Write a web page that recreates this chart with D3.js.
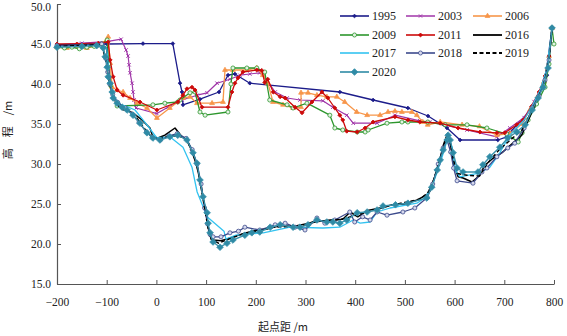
<!DOCTYPE html>
<html><head><meta charset="utf-8">
<script src="https://cdn.jsdelivr.net/npm/d3@7"></script>
<style>body{margin:0;background:#fff;}svg{display:block;}</style>
</head><body>
<svg id="c" width="567" height="336"></svg>
<script>
const xTicks = [-200,-100,0,100,200,300,400,500,600,700,800];
const yTicks = [15,20,25,30,35,40,45,50];
const years = ["1995","2003","2006","2009","2011","2016","2017","2018","2019","2020"];

const s1995 = [[-200,44.9],[-150,45],[-100,45],[-27,45.05],[33,45.05],[47.5,40.1],[51.5,39],[53.5,37.4],[87.7,38.1],[126,39],[144,41.1],[158,41.25],[188,40.1],[369,39],[436,38],[506,37],[546.5,36],[584.7,34.5],[611,33],[687,33],[705,33.4],[711,33.9],[758,37.1],[786,41.1],[796,47]];
const s2003 = [[-200,44.9],[-150,45.1],[-100,45.3],[-71,45.6],[-61,44.25],[-57,43.5],[-55,42.4],[-53,41.4],[-49,40.1],[-47,39],[-45,38],[-41,37],[1,36.3],[23,37.1],[51.5,38],[82,38.6],[102,38.9],[122,40.1],[148,40.6],[168,41.1],[188,41.25],[208,41.4],[222,40.5],[239,39],[263,38.25],[289,38],[335,37.9],[355,37.1],[383,36.1],[396,35.1],[444,35.1],[480,36.1],[530,35.4],[550,35.25],[625,34.25],[685,33.4],[711,34.5],[740,35.8],[760,37.8],[782,40.5],[796,47]];
const s2006 = [[-200,44.6],[-180,44.5],[-160,44.7],[-140,44.5],[-120,44.8],[-100,45.5],[-97,45.9],[-93,42.6],[-89,39.6],[-79,39.25],[-67,39],[-53,38.25],[-39,37.6],[-19,37],[1,35.75],[27,37],[53.5,38.25],[67.6,38.4],[81.7,37.6],[112,37.6],[134,37.75],[138,41.75],[154,41.75],[182,41.75],[202,42],[214,41.1],[224.5,40.1],[234.6,37.75],[254.7,37.4],[275,37],[291,37.1],[291,38.9],[305,38.9],[323,38.6],[343,38.4],[363,38.4],[379,37.75],[403,36.5],[424,36.1],[450,36.1],[466,36.5],[480,36.6],[494,36.5],[514,36.5],[524,36.1],[536,35.25],[546,34.9],[571,35.25],[615,34.9],[650,34.7],[685,33.6],[712,33.8],[735,35],[752,36.8],[768,38.5],[780,40.3],[790,43.5],[796,47]];
const s2009 = [[-200,44.6],[-185,44.5],[-170,44.6],[-155,44.4],[-140,44.6],[-125,44.7],[-110,45],[-99,45.5],[-96,42.5],[-92,39.8],[-79,37.25],[-7,37.4],[17,37.6],[43,37.75],[47.5,38],[67.6,38.9],[77.7,39],[87.7,36.5],[98,36.1],[144,36.5],[150,40],[154,42],[182,42],[202,42],[218,41.5],[228,38],[263,37.4],[275,37],[303,37.6],[349,36.1],[359,34.5],[375,34.25],[404,34],[420,34],[426,34.25],[464,35.1],[494,35.25],[506,35.25],[546,35.25],[581,34.9],[625,34.9],[665,34.5],[705,33.75],[728,32.75],[736,33.9],[748,35.5],[765,37.5],[782,39.6],[790,42.5],[796,47],[800,45]];
const s2011 = [[-200,45],[-160,45],[-117,45.1],[-97,45.25],[-93,43],[-87,40.9],[-79,39.25],[-67,38.6],[-33,37.75],[1,36.75],[43,37.75],[53.5,38.6],[61.5,39.4],[71.6,39.6],[77.7,39.25],[91.7,37.1],[144,37.1],[152,39],[158,40.1],[164,40.75],[174,41.5],[202,41.75],[212,41.7],[218,40.2],[224,40.6],[235,39],[249,38.4],[259,38.25],[279,37.1],[293,36.4],[313,37.75],[333,39],[345,38.25],[359,37],[369,36.1],[375,35.5],[383,34.1],[404,34],[420,34.5],[436,35.25],[480,35.9],[506,35.5],[530,35.25],[571,35.1],[607,34.5],[651,34],[685,33.9],[701,33.9],[725,34.9],[738,35.5],[755,37.2],[770,39],[782,41],[790,43.5],[796,47]];
const s2016 = [[-200,44.8],[-110,44.9],[-100,44.5],[-97,42],[-93,40],[-88,38.5],[-80,37.5],[-68,36.8],[-47,36.4],[-29,35.5],[-13,34.5],[-7,33.4],[3,33.25],[17,33.6],[37.4,34.5],[51.5,33.4],[61.5,33],[72,31.5],[80,30],[88,28],[95,25.5],[102,23],[107,21],[115,20.5],[130,20.4],[150,20.8],[175,21.3],[200,21.7],[230,22],[250,22.3],[275,22.2],[300,22.5],[325,22.8],[350,23],[375,23.1],[390,24],[405,23.4],[425,24.2],[450,24.5],[475,24.9],[500,25],[525,25.5],[545,26.2],[558,28],[568,30],[578,32.5],[586,33.8],[592,32.3],[598,30],[607,28.4],[617,28.25],[635,27.75],[651,28.6],[660,29.8],[675,30.6],[697,31.5],[715,32.5],[735,33.6],[752,36],[765,38],[778,40],[788,42.5],[796,47]];
const s2017 = [[-200,44.7],[-110,44.9],[-100,44.5],[-95,41],[-88,38.5],[-75,37.5],[-60,37.2],[-43,36.75],[-19,34.9],[1,33.25],[27,33.4],[53.5,32.1],[71.6,29.6],[82,26.5],[102,23.4],[136,21.6],[140,20.6],[160,21.1],[215,21.4],[269,22.1],[335,22],[369,22.1],[396,23],[410,22.6],[430,22.75],[444,24],[470,24.5],[524,25.1],[540,25.75],[554,27.1],[571,30.1],[587,33.4],[595,32.1],[601,29.25],[611,28.4],[651,28.9],[671,29.6],[691,31.4],[711,33.6],[740,35.5],[758,37.5],[772,39.2],[785,41.8],[796,47]];
const s2018 = [[-200,44.8],[-110,45],[-102,43.2],[-98,41.5],[-94,40],[-88,38.7],[-78,37.7],[-62,37],[-48,36.2],[-35,35.2],[-20,34],[-8,33.3],[8,33],[25,33.5],[42,33.8],[60,33.2],[72,31.8],[82,30],[90,27.5],[97,24.5],[103,22.5],[108,21.2],[114,20.9],[130,20.9],[148,21.4],[165,21.6],[178,22.1],[208,21.75],[239,22.4],[259,22.6],[279,22.1],[299,21.75],[323,23.25],[339,22.6],[359,23],[389,24],[399,22.75],[415,23.4],[430,23],[444,24],[464,23.6],[496,24],[520,24.5],[545,25.8],[556,27.5],[567,30],[577,32],[585,33],[592,31.5],[598,29.5],[605,27.9],[637,27.6],[655,29],[665,29.5],[685,30.9],[707,32],[721,32.6],[740,34.5],[756,37],[770,38.5],[782,40.5],[790,43],[796,47]];
const s2019 = [[-200,44.7],[-110,44.9],[-102,43],[-97,41],[-92,39.5],[-85,38],[-72,37.3],[-55,36.6],[-40,35.8],[-25,34.5],[-10,33.4],[5,33.1],[25,33.5],[45,33.5],[60,33.1],[72,31.6],[82,29.8],[90,27],[97,24.5],[104,22],[110,20.6],[125,20.1],[145,20.6],[175,21.3],[205,21.6],[235,22.1],[265,22.2],[295,22.3],[320,22.9],[350,22.9],[380,23.2],[410,23.8],[440,24.3],[470,24.8],[500,25.2],[530,25.6],[550,26.6],[562,28.8],[575,31.5],[586,33.8],[592,32.5],[598,30.5],[606,28.8],[625,28.6],[650,28.5],[665,30],[690,31.8],[712,33],[735,34.2],[752,36.2],[766,38],[780,40],[790,43],[796,47]];
const s2020 = [[-200,44.6],[-150,44.7],[-120,44.8],[-107,44.5],[-103,43.4],[-99,42.1],[-97,40.9],[-93,40.1],[-89,39],[-87,38.25],[-79,37.6],[-69,37.1],[-59,36.75],[-47,36.1],[-33,35.1],[-19,33.9],[-7,33.25],[7,33],[27,33.4],[43,33.6],[61.5,33],[73.6,31.4],[81.7,30.1],[87.7,28],[93.8,25.9],[102,23.9],[104,22.6],[108,21.4],[114,20.25],[128,19.6],[142,20.1],[154,20.5],[178,21.1],[192,21.4],[208,21.5],[229,22.1],[249,22.4],[275,22.1],[289,22.1],[305,22.4],[323,23],[343,22.75],[355,22.75],[369,22.6],[383,23],[404,23.9],[424,24],[444,24.25],[456,24.75],[481,24.9],[506,25.1],[544,25.75],[554,27.1],[565,29.25],[571,30.5],[577,31.75],[585,33],[587,33.6],[591,33],[597,31.4],[605,29.5],[617,29],[647,29],[657,29.9],[671,30.9],[691,32.1],[707,33.25],[725,34],[742,34.9],[756,36.75],[768,38.25],[778,39.6],[788,42],[796,47]];

const seriesData = [s1995,s2003,s2006,s2009,s2011,s2016,s2017,s2018,s2019,s2020];

const styles = {
  "1995":{color:"#1c1c8a",w:1.3,marker:"rsq",ms:7,fill:"#1c1c8a"},
  "2003":{color:"#a035a8",w:1.2,marker:"x",ms:9,fill:"none"},
  "2006":{color:"#f7964a",w:1.3,marker:"triangle",ms:10,fill:"#f7964a"},
  "2009":{color:"#2d962d",w:1.3,marker:"circle",ms:13,fill:"#e3f3e3"},
  "2011":{color:"#cc0a0a",w:1.3,marker:"rsq",ms:8,fill:"#cc0a0a"},
  "2016":{color:"#000000",w:1.5,marker:null},
  "2017":{color:"#33c3f0",w:1.3,marker:null},
  "2018":{color:"#3c4a8c",w:1.3,marker:"circle",ms:13,fill:"#d5d8ec"},
  "2019":{color:"#000000",w:1.5,marker:null,dash:"4,2.5"},
  "2020":{color:"#3a92ab",w:1.4,marker:"rsq",ms:22,fill:"#2f8aa5"}
};

const svg = d3.select("#c");
const x = d3.scaleLinear().domain([-200,800]).range([57,554]);
const y = d3.scaleLinear().domain([15,50]).range([284,4]);
const serif = "'Liberation Serif','Times New Roman',serif";

// axes
const xAxis = d3.axisBottom(x).tickValues(xTicks).tickSize(-4).tickSizeOuter(0)
  .tickFormat(d => d < 0 ? "\u2212" + Math.abs(d) : String(d));
const gx = svg.append("g").attr("transform","translate(0,284)").call(xAxis);
gx.selectAll("text").attr("dy",0).attr("y",22).style("font-family",serif).style("font-size","11.5px").attr("fill","#222");
const yAxis = d3.axisLeft(y).tickValues(yTicks).tickSize(-4).tickSizeOuter(0).tickFormat(d3.format(".1f"));
const gy = svg.append("g").attr("transform","translate(57,0)").call(yAxis);
gy.selectAll("text").attr("x",-6).style("font-family",serif).style("font-size","11.5px").attr("fill","#222")
  .attr("dy", d => d === 50 ? "0.55em" : "0.32em");
svg.selectAll(".domain").attr("stroke","#555").attr("stroke-width",1.2);
svg.selectAll(".tick line").attr("stroke","#555");

// titles
svg.append("text").attr("x",283).attr("y",331).attr("text-anchor","middle")
  .style("font-family","'Noto Sans CJK SC',sans-serif").style("font-size","11px").attr("fill","#222")
  .text("起点距 /m");
svg.append("text").attr("transform","translate(12,130) rotate(-90)").attr("text-anchor","middle")
  .style("font-family","'Noto Sans CJK SC',sans-serif").style("font-size","11px").attr("fill","#222")
  .text("高\u3000程\u3000/m");

const line = d3.line().x(d=>x(d[0])).y(d=>y(d[1]));
const symType = {rsq:d3.symbolSquare, triangle:d3.symbolTriangle, circle:d3.symbolCircle, x:(d3.symbolTimes||d3.symbolCross)};

function markerPath(st){ return d3.symbol().type(symType[st.marker]).size(st.ms)(); }
function drawMarkers(g, pts, st){
  if(!st.marker) return;
  const rot = st.marker==="rsq" ? " rotate(45)" : "";
  g.selectAll("path.m").data(pts).join("path").attr("class","m")
    .attr("transform",d=>`translate(${x(d[0])},${y(d[1])})${rot}`)
    .attr("d",markerPath(st))
    .attr("fill",st.fill).attr("stroke",st.color).attr("stroke-width",st.marker==="x"?1:0.8);
}

years.forEach((yr,i)=>{
  const st = styles[yr];
  const g = svg.append("g");
  g.append("path").datum(seriesData[i]).attr("d",line).attr("fill","none")
    .attr("stroke",st.color).attr("stroke-width",st.w).attr("stroke-dasharray",st.dash||null)
    .attr("stroke-linejoin","round");
  drawMarkers(g, seriesData[i], st);
});

// legend
const colX = [340,406,473];
const rowY = [16,35,53,72];
const lg = svg.append("g");
years.forEach((yr,i)=>{
  const st = styles[yr];
  const cx = colX[i%3], cy = rowY[Math.floor(i/3)];
  lg.append("line").attr("x1",cx).attr("x2",cx+29).attr("y1",cy).attr("y2",cy)
    .attr("stroke",st.color).attr("stroke-width",st.w+0.3).attr("stroke-dasharray",st.dash||null);
  if(st.marker){
    const rot = st.marker==="rsq" ? " rotate(45)" : "";
    lg.append("path").attr("transform",`translate(${cx+14.5},${cy})${rot}`)
      .attr("d",markerPath(st))
      .attr("fill",st.fill).attr("stroke",st.color).attr("stroke-width",0.8);
  }
  lg.append("text").attr("x",cx+32).attr("y",cy+4).style("font-family",serif)
    .style("font-size","12px").attr("fill","#222").text(yr);
});
</script>
</body></html>
